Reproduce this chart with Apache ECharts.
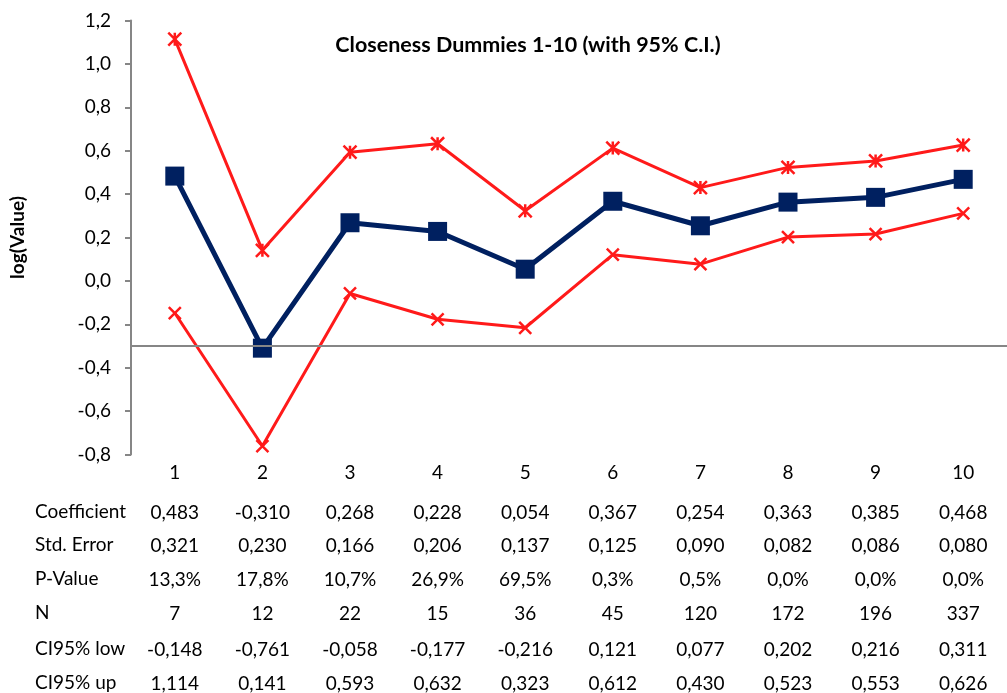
<!DOCTYPE html>
<html>
<head>
<meta charset="utf-8">
<title>Closeness Dummies 1-10</title>
<script src="https://cdn.jsdelivr.net/npm/echarts@6/dist/echarts.min.js"></script>
<style>
  html, body { margin: 0; padding: 0; background: #fff; }
  #chart { width: 1007px; height: 693px; }
</style>
</head>
<body>
<div id="chart"></div>
<script>
// Dummy categories and regression results
const categories = ['1', '2', '3', '4', '5', '6', '7', '8', '9', '10'];
const coefficient = [0.483, -0.310, 0.268, 0.228, 0.054, 0.367, 0.254, 0.363, 0.385, 0.468];
const stdError = [0.321, 0.230, 0.166, 0.206, 0.137, 0.125, 0.090, 0.082, 0.086, 0.080];
const pValuePct = [13.3, 17.8, 10.7, 26.9, 69.5, 0.3, 0.5, 0.0, 0.0, 0.0];
const nObs = [7, 12, 22, 15, 36, 45, 120, 172, 196, 337];
const ciLow = [-0.148, -0.761, -0.058, -0.177, -0.216, 0.121, 0.077, 0.202, 0.216, 0.311];
const ciUp = [1.114, 0.141, 0.593, 0.632, 0.323, 0.612, 0.430, 0.523, 0.553, 0.626];
const rowLabels = ['Coefficient', 'Std. Error', 'P-Value', 'N', 'CI95% low', 'CI95% up'];
const baselineValue = -0.3;

const FONT = 'Lato, "Open Sans", sans-serif';
const FS = 19;
const comma = (s) => s.replace('.', ',');
const fmt3 = (v) => comma(v.toFixed(3));
const fmtPct = (v) => comma(v.toFixed(1)) + '%';

const rows = [
  coefficient.map(fmt3),
  stdError.map(fmt3),
  pValuePct.map(fmtPct),
  nObs.map(String),
  ciLow.map(fmt3),
  ciUp.map(fmt3)
];
const rowCenters = [514, 547, 581, 615, 651, 685];

const gridTop = 20.5, gridBottomY = 456;
const gridLeft = 128;
const gridWidth = 897;

// Marker shapes: asterisk-like star for the upper bound, cross for the lower bound
const starPath = 'path://M0,0L10,10M10,0L0,10M5,0L5,10';
const crossPath = 'path://M0,0L10,10M10,0L0,10';

const xAxes = [{
  type: 'category',
  gridIndex: 0,
  data: categories,
  position: 'bottom',
  axisLine: { show: false },
  axisTick: { show: false },
  splitLine: { show: false },
  axisLabel: {
    interval: 0, margin: 18, verticalAlign: 'middle',
    fontFamily: FONT, fontSize: FS, color: '#000'
  }
}];
rows.forEach((r, i) => {
  xAxes.push({
    type: 'category',
    gridIndex: 0,
    data: r,
    position: 'bottom',
    axisLine: { show: false },
    axisTick: { show: false },
    splitLine: { show: false },
    axisLabel: {
      interval: 0, margin: rowCenters[i] - gridBottomY, verticalAlign: 'middle',
      fontFamily: FONT, fontSize: FS, color: '#000'
    }
  });
});

const graphics = rowLabels.map((t, i) => ({
  type: 'text',
  left: 35,
  top: rowCenters[i] - 12,
  style: { text: t, font: FS + 'px ' + FONT, fill: '#000' }
}));

const chart = echarts.init(document.getElementById('chart'), null, { renderer: 'canvas' });
chart.setOption({
  animation: false,
  backgroundColor: '#fff',
  title: {
    text: 'Closeness Dummies 1-10 (with 95% C.I.)',
    left: 523, top: 29, textAlign: 'center',
    textStyle: { fontFamily: FONT, fontSize: 21.5, fontWeight: 'bold', color: '#000' }
  },
  grid: {
    left: gridLeft, top: gridTop, width: gridWidth, height: gridBottomY - gridTop,
    containLabel: false
  },
  xAxis: xAxes,
  yAxis: {
    type: 'value',
    min: -0.8, max: 1.2, interval: 0.2,
    name: 'log(Value)',
    nameLocation: 'middle',
    nameGap: 104,
    nameRotate: 90,
    nameTextStyle: { fontFamily: FONT, fontSize: 19, fontWeight: 'bold', color: '#000' },
    axisLine: { show: true, lineStyle: { color: '#868686', width: 2 } },
    axisTick: { show: true, length: 6, lineStyle: { color: '#868686', width: 2 } },
    splitLine: { show: false },
    axisLabel: {
      margin: 20, fontFamily: FONT, fontSize: FS, color: '#000',
      formatter: (v) => comma((Math.abs(v) < 1e-9 ? 0 : v).toFixed(1))
    }
  },
  graphic: graphics,
  series: [
    {
      // horizontal axis line crossing at -0.3
      type: 'line', data: [], z: 1, silent: true,
      markLine: {
        silent: true, symbol: ['none', 'none'],
        label: { show: false },
        lineStyle: { color: '#868686', width: 2, type: 'solid' },
        data: [{ yAxis: baselineValue }]
      }
    },
    {
      name: 'CI95% up', type: 'line', data: ciUp, z: 3,
      symbol: starPath, symbolSize: 13,
      lineStyle: { color: '#ff1a1a', width: 3 },
      itemStyle: { color: 'rgba(0,0,0,0)', borderColor: '#ff1a1a', borderWidth: 2.5 }
    },
    {
      name: 'CI95% low', type: 'line', data: ciLow, z: 3,
      symbol: crossPath, symbolSize: 12,
      lineStyle: { color: '#ff1a1a', width: 3 },
      itemStyle: { color: 'rgba(0,0,0,0)', borderColor: '#ff1a1a', borderWidth: 2.5 }
    },
    {
      name: 'Coefficient', type: 'line', data: coefficient, z: 4,
      symbol: 'rect', symbolSize: 19,
      lineStyle: { color: '#002060', width: 5 },
      itemStyle: { color: '#002060' }
    }
  ]
});
</script>
</body>
</html>
